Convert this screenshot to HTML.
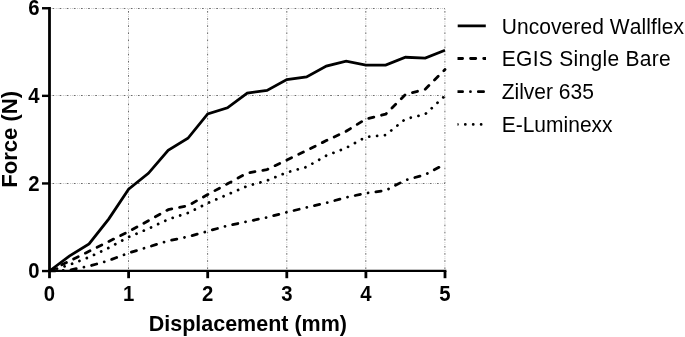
<!DOCTYPE html>
<html>
<head>
<meta charset="utf-8">
<title>Force vs Displacement</title>
<style>
html,body{margin:0;padding:0;background:#fff;}
body{width:685px;height:337px;overflow:hidden;}
svg{display:block;}
text{font-family:"Liberation Sans",Arial,Helvetica,sans-serif;fill:#000;font-kerning:none;}
.tick text{font-weight:bold;font-size:20.3px;}
.axl{font-weight:bold;font-size:21.5px;}
.leg text{font-size:21px;}
.grid line{stroke-width:1;fill:none;}
.ga{stroke:#6a6a6a;stroke-dasharray:1.7 5.42;stroke-dashoffset:-3;}
.gb{stroke:#c6c6c6;stroke-dasharray:0 3.2 1 0.9 1 1.02;stroke-dashoffset:-3;}
.axis line{stroke:#000;stroke-width:2.8;stroke-linecap:butt;}
.axis line.h{stroke-width:2.4;}
.ser polyline,.leg line{fill:none;stroke:#000;stroke-width:2.8;stroke-linejoin:round;}
.dash{stroke-dasharray:5.2 7.95;stroke-linecap:round;stroke-dashoffset:-0.6;}
.dot{stroke-dasharray:0.01 7.9;stroke-linecap:round;stroke-dashoffset:0.05;}
.dd{stroke-dasharray:5.3 7.85 0.01 7.84;stroke-linecap:round;stroke-dashoffset:-0.6;}
</style>
</head>
<body>
<svg width="685" height="337" viewBox="0 0 685 337">
<rect width="685" height="337" fill="#fff"/>
<g class="grid">
<line class="ga" x1="128.5" y1="8.0" x2="128.5" y2="271.0"/>
<line class="ga" x1="207.6" y1="8.0" x2="207.6" y2="271.0"/>
<line class="ga" x1="286.8" y1="8.0" x2="286.8" y2="271.0"/>
<line class="ga" x1="365.8" y1="8.0" x2="365.8" y2="271.0"/>
<line class="ga" x1="444.9" y1="8.0" x2="444.9" y2="271.0"/>
<line class="ga" x1="49.5" y1="183.5" x2="445.0" y2="183.5"/>
<line class="ga" x1="49.5" y1="95.5" x2="445.0" y2="95.5"/>
<line class="ga" x1="49.5" y1="8.5" x2="445.0" y2="8.5"/>
<line class="gb" x1="128.5" y1="8.0" x2="128.5" y2="271.0"/>
<line class="gb" x1="207.6" y1="8.0" x2="207.6" y2="271.0"/>
<line class="gb" x1="286.8" y1="8.0" x2="286.8" y2="271.0"/>
<line class="gb" x1="365.8" y1="8.0" x2="365.8" y2="271.0"/>
<line class="gb" x1="444.9" y1="8.0" x2="444.9" y2="271.0"/>
<line class="gb" x1="49.5" y1="183.5" x2="445.0" y2="183.5"/>
<line class="gb" x1="49.5" y1="95.5" x2="445.0" y2="95.5"/>
<line class="gb" x1="49.5" y1="8.5" x2="445.0" y2="8.5"/>
</g>
<g class="ser">
<polyline class="dd" points="49.50,271.00 69.28,270.12 89.05,266.18 108.83,260.49 128.60,253.04 148.38,246.91 168.15,240.87 187.93,236.75 207.70,231.23 227.47,225.67 247.25,221.55 267.02,217.39 286.80,212.22 306.57,207.49 326.35,202.85 346.12,197.42 365.90,193.25 385.68,190.50 405.45,180.12 425.23,174.64 445.00,164.13"/>
<polyline class="dot" points="49.50,271.00 69.28,264.87 89.05,257.20 108.83,247.79 128.60,237.06 148.38,228.73 168.15,219.32 187.93,212.97 207.70,203.11 227.47,194.57 247.25,186.03 267.02,180.55 286.80,172.45 306.57,166.98 326.35,155.59 346.12,147.92 365.90,136.97 385.68,135.00 405.45,119.01 425.23,114.20 445.00,95.80"/>
<polyline class="dash" points="49.50,271.00 69.28,261.14 89.05,251.29 108.83,241.44 128.60,231.58 148.38,220.76 168.15,209.68 187.93,205.74 207.70,194.57 227.47,183.84 247.25,173.06 267.02,169.52 286.80,159.97 306.57,150.46 326.35,140.61 346.12,131.28 365.90,119.01 385.68,114.20 405.45,94.49 425.23,89.23 445.00,69.52"/>
<polyline style="stroke-linejoin:miter" points="49.50,271.00 69.28,256.11 89.05,243.84 108.83,218.88 128.60,189.27 148.38,173.33 168.15,150.29 187.93,138.29 207.70,113.98 227.47,107.84 247.25,93.04 267.02,90.46 286.80,79.51 306.57,76.97 326.35,66.02 346.12,61.20 365.90,65.14 385.68,65.14 405.45,57.26 425.23,58.13 445.00,50.25"/>
</g>
<g class="axis">
<line x1="49.5" y1="7.05" x2="49.5" y2="272.10"/>
<line class="h" x1="48.1" y1="270.9" x2="446.4" y2="270.9"/>
<line x1="49.5" y1="271.0" x2="49.5" y2="278.2"/>
<line x1="128.6" y1="271.0" x2="128.6" y2="278.2"/>
<line x1="207.7" y1="271.0" x2="207.7" y2="278.2"/>
<line x1="286.8" y1="271.0" x2="286.8" y2="278.2"/>
<line x1="365.9" y1="271.0" x2="365.9" y2="278.2"/>
<line x1="445.0" y1="271.0" x2="445.0" y2="278.2"/>
<line class="h" x1="42.0" y1="271.05" x2="49.5" y2="271.05"/>
<line class="h" x1="42.0" y1="183.45" x2="49.5" y2="183.45"/>
<line class="h" x1="42.0" y1="95.85" x2="49.5" y2="95.85"/>
<line class="h" x1="42.0" y1="8.25" x2="49.5" y2="8.25"/>
</g>
<g class="tick">
<text transform="translate(49.5,300.65) scale(1,1.055)" text-anchor="middle">0</text>
<text transform="translate(128.6,300.65) scale(1,1.055)" text-anchor="middle">1</text>
<text transform="translate(207.7,300.65) scale(1,1.055)" text-anchor="middle">2</text>
<text transform="translate(286.8,300.65) scale(1,1.055)" text-anchor="middle">3</text>
<text transform="translate(365.9,300.65) scale(1,1.055)" text-anchor="middle">4</text>
<text transform="translate(445.0,300.65) scale(1,1.055)" text-anchor="middle">5</text>
<text transform="translate(39.6,278.20) scale(1,1.055)" text-anchor="end">0</text>
<text transform="translate(39.6,190.60) scale(1,1.055)" text-anchor="end">2</text>
<text transform="translate(39.6,103.00) scale(1,1.055)" text-anchor="end">4</text>
<text transform="translate(39.6,15.40) scale(1,1.055)" text-anchor="end">6</text>
</g>
<text class="axl" transform="translate(247.8,330.7) scale(1,1.02)" text-anchor="middle">Displacement (mm)</text>
<text class="axl" style="font-size:22.1px" transform="translate(17.3,139.3) rotate(-90) scale(1,1.04)" text-anchor="middle">Force (N)</text>
<clipPath id="lc"><rect x="457.5" y="0" width="28.5" height="140"/></clipPath>
<g class="leg">
<g clip-path="url(#lc)">
<line x1="457.4" y1="25.8" x2="485.8" y2="25.8"/>
<line class="dash" style="stroke-dashoffset:0" x1="457.4" y1="58.5" x2="488" y2="58.5"/>
<line class="dd" style="stroke-dashoffset:0" x1="457.3" y1="91.65" x2="488" y2="91.65"/>
<line class="dot" style="stroke-dashoffset:0" x1="457.4" y1="124.4" x2="488" y2="124.4"/>
</g>
<text transform="translate(501.7,33.6) scale(1,1.085)" style="letter-spacing:0.08px">Uncovered Wallflex</text>
<text transform="translate(501.7,66.3) scale(1,1.085)" style="letter-spacing:0.3px">EGIS Single Bare</text>
<text transform="translate(501.7,99.0) scale(1,1.085)">Zilver 635</text>
<text transform="translate(501.7,131.9) scale(1,1.085)">E-Luminexx</text>
</g>
</svg>
</body>
</html>
